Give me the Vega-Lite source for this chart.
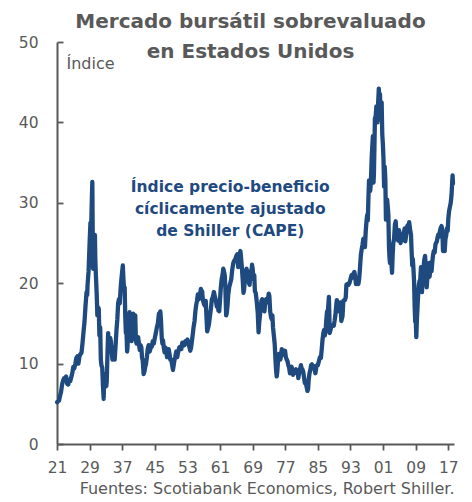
{
 "$schema": "https://vega.github.io/schema/vega-lite/v6.json",
 "width": 397,
 "height": 402,
 "autosize": "none",
 "padding": {"left": 57, "top": 42, "right": 18, "bottom": 58},
 "background": "white",
 "title": {"text": ["Mercado bursátil sobrevaluado", "en Estados Unidos"], "font": "DejaVu Sans", "fontSize": 20, "fontWeight": "bold", "color": "#595959", "anchor": "middle", "offset": -27, "dx": -5, "lineHeight": 30},
 "config": {"view": {"stroke": null}},
 "layer": [
  {
   "data": {"values": [
{"t":1921.0,"v":5.2},{"t":1921.25,"v":5.3},{"t":1921.5,"v":5.4},{"t":1921.75,"v":6.0},{"t":1922.0,"v":6.5},{"t":1922.25,"v":7.4},{"t":1922.5,"v":7.9},{"t":1922.75,"v":8.2},
{"t":1923.0,"v":8.2},{"t":1923.25,"v":8.4},{"t":1923.5,"v":7.5},{"t":1923.75,"v":7.4},{"t":1924.0,"v":8.0},{"t":1924.25,"v":7.8},{"t":1924.5,"v":8.3},{"t":1924.75,"v":8.8},
{"t":1925.0,"v":9.6},{"t":1925.25,"v":9.4},{"t":1925.5,"v":10.0},{"t":1925.75,"v":10.7},{"t":1926.0,"v":10.9},{"t":1926.25,"v":10.0},{"t":1926.5,"v":10.9},{"t":1926.75,"v":11.2},
{"t":1927.0,"v":11.3},{"t":1927.25,"v":12.5},{"t":1927.5,"v":13.9},{"t":1927.75,"v":15.2},{"t":1928.0,"v":17.2},{"t":1928.25,"v":18.9},{"t":1928.4,"v":18.5},{"t":1928.5,"v":19.8},{"t":1928.75,"v":21.5},
{"t":1929.0,"v":25.0},{"t":1929.2,"v":27.5},{"t":1929.35,"v":26.2},{"t":1929.5,"v":29.5},{"t":1929.67,"v":32.6},{"t":1929.75,"v":27.0},{"t":1929.85,"v":21.8},
{"t":1930.0,"v":23.5},{"t":1930.15,"v":25.3},{"t":1930.3,"v":26.0},{"t":1930.4,"v":23.0},{"t":1930.5,"v":21.5},{"t":1930.75,"v":18.5},{"t":1930.9,"v":16.0},
{"t":1931.1,"v":17.0},{"t":1931.25,"v":16.8},{"t":1931.4,"v":13.5},{"t":1931.6,"v":14.5},{"t":1931.75,"v":10.5},{"t":1931.9,"v":9.8},
{"t":1932.1,"v":9.5},{"t":1932.25,"v":7.5},{"t":1932.45,"v":5.6},{"t":1932.6,"v":8.5},{"t":1932.7,"v":8.7},{"t":1932.9,"v":7.3},
{"t":1933.1,"v":7.2},{"t":1933.2,"v":7.8},{"t":1933.4,"v":11.5},{"t":1933.55,"v":13.8},{"t":1933.7,"v":12.0},{"t":1933.9,"v":11.8},
{"t":1934.05,"v":13.2},{"t":1934.2,"v":12.8},{"t":1934.4,"v":11.6},{"t":1934.6,"v":10.5},{"t":1934.75,"v":10.7},{"t":1934.9,"v":10.8},
{"t":1935.15,"v":10.5},{"t":1935.4,"v":12.5},{"t":1935.6,"v":14.2},{"t":1935.8,"v":15.5},{"t":1936.0,"v":17.5},{"t":1936.2,"v":18.0},{"t":1936.4,"v":17.5},{"t":1936.6,"v":19.3},{"t":1936.8,"v":20.5},
{"t":1937.0,"v":21.5},{"t":1937.15,"v":22.2},{"t":1937.3,"v":20.5},{"t":1937.45,"v":19.2},{"t":1937.6,"v":19.5},{"t":1937.75,"v":15.8},{"t":1937.9,"v":13.8},
{"t":1938.05,"v":14.0},{"t":1938.2,"v":11.5},{"t":1938.3,"v":12.0},{"t":1938.45,"v":14.0},{"t":1938.65,"v":14.8},{"t":1938.8,"v":16.4},{"t":1938.95,"v":15.5},
{"t":1939.1,"v":14.6},{"t":1939.3,"v":12.8},{"t":1939.45,"v":13.6},{"t":1939.7,"v":16.2},{"t":1939.85,"v":15.8},
{"t":1940.0,"v":15.6},{"t":1940.2,"v":16.0},{"t":1940.35,"v":13.0},{"t":1940.5,"v":12.5},{"t":1940.7,"v":13.3},{"t":1940.9,"v":13.3},
{"t":1941.1,"v":12.5},{"t":1941.3,"v":11.7},{"t":1941.5,"v":12.3},{"t":1941.7,"v":12.0},{"t":1941.85,"v":10.8},
{"t":1942.05,"v":10.3},{"t":1942.25,"v":8.7},{"t":1942.45,"v":9.0},{"t":1942.65,"v":9.6},{"t":1942.85,"v":10.0},
{"t":1943.05,"v":10.8},{"t":1943.25,"v":11.8},{"t":1943.5,"v":12.3},{"t":1943.75,"v":11.5},{"t":1944.0,"v":12.0},{"t":1944.25,"v":12.1},{"t":1944.5,"v":12.8},{"t":1944.75,"v":12.5},
{"t":1945.0,"v":13.2},{"t":1945.25,"v":13.8},{"t":1945.5,"v":14.5},{"t":1945.75,"v":15.0},{"t":1946.0,"v":16.2},{"t":1946.15,"v":15.8},{"t":1946.35,"v":16.5},{"t":1946.5,"v":15.5},{"t":1946.7,"v":13.2},{"t":1946.85,"v":12.5},
{"t":1947.0,"v":12.9},{"t":1947.2,"v":12.0},{"t":1947.4,"v":11.4},{"t":1947.6,"v":12.0},{"t":1947.8,"v":11.5},{"t":1948.0,"v":10.8},{"t":1948.2,"v":11.0},{"t":1948.4,"v":11.8},{"t":1948.6,"v":11.2},{"t":1948.8,"v":10.5},
{"t":1949.0,"v":10.5},{"t":1949.2,"v":10.0},{"t":1949.45,"v":9.2},{"t":1949.6,"v":9.7},{"t":1949.8,"v":10.4},
{"t":1950.0,"v":10.8},{"t":1950.25,"v":11.5},{"t":1950.5,"v":10.8},{"t":1950.75,"v":11.5},{"t":1951.0,"v":12.0},{"t":1951.25,"v":12.1},{"t":1951.5,"v":11.8},{"t":1951.75,"v":12.6},
{"t":1952.0,"v":12.4},{"t":1952.25,"v":12.3},{"t":1952.5,"v":12.8},{"t":1952.75,"v":12.5},{"t":1953.0,"v":13.0},{"t":1953.25,"v":12.5},{"t":1953.5,"v":12.0},{"t":1953.7,"v":11.6},{"t":1953.9,"v":12.0},
{"t":1954.1,"v":12.8},{"t":1954.3,"v":13.6},{"t":1954.5,"v":14.5},{"t":1954.75,"v":15.3},{"t":1954.95,"v":16.5},
{"t":1955.15,"v":17.3},{"t":1955.35,"v":17.8},{"t":1955.55,"v":18.6},{"t":1955.75,"v":18.0},{"t":1955.95,"v":18.5},
{"t":1956.15,"v":18.8},{"t":1956.3,"v":19.3},{"t":1956.45,"v":18.8},{"t":1956.6,"v":19.0},{"t":1956.8,"v":17.9},
{"t":1957.0,"v":17.5},{"t":1957.25,"v":17.2},{"t":1957.5,"v":17.8},{"t":1957.7,"v":15.5},{"t":1957.85,"v":14.0},
{"t":1958.0,"v":14.3},{"t":1958.25,"v":14.8},{"t":1958.5,"v":15.8},{"t":1958.75,"v":16.8},{"t":1959.0,"v":18.0},{"t":1959.25,"v":18.3},{"t":1959.5,"v":18.9},{"t":1959.75,"v":18.3},
{"t":1960.0,"v":17.8},{"t":1960.2,"v":17.1},{"t":1960.4,"v":17.5},{"t":1960.6,"v":16.6},{"t":1960.8,"v":16.5},
{"t":1961.0,"v":18.0},{"t":1961.2,"v":19.5},{"t":1961.4,"v":20.5},{"t":1961.6,"v":21.0},{"t":1961.8,"v":21.8},{"t":1961.95,"v":21.5},
{"t":1962.15,"v":21.0},{"t":1962.3,"v":19.5},{"t":1962.5,"v":16.0},{"t":1962.65,"v":16.3},{"t":1962.85,"v":17.3},
{"t":1963.0,"v":18.5},{"t":1963.25,"v":19.5},{"t":1963.5,"v":20.0},{"t":1963.75,"v":20.5},{"t":1964.0,"v":21.7},{"t":1964.25,"v":22.5},{"t":1964.5,"v":22.8},{"t":1964.75,"v":23.0},
{"t":1965.0,"v":23.4},{"t":1965.25,"v":23.6},{"t":1965.45,"v":22.0},{"t":1965.6,"v":22.5},{"t":1965.8,"v":23.5},
{"t":1966.0,"v":24.0},{"t":1966.15,"v":23.2},{"t":1966.35,"v":22.0},{"t":1966.55,"v":20.5},{"t":1966.75,"v":18.8},{"t":1966.9,"v":19.2},
{"t":1967.1,"v":20.5},{"t":1967.3,"v":21.5},{"t":1967.5,"v":21.8},{"t":1967.7,"v":21.3},{"t":1967.9,"v":21.0},
{"t":1968.1,"v":20.0},{"t":1968.25,"v":19.8},{"t":1968.45,"v":21.5},{"t":1968.65,"v":21.0},{"t":1968.85,"v":22.3},
{"t":1969.0,"v":21.8},{"t":1969.2,"v":20.5},{"t":1969.4,"v":21.0},{"t":1969.55,"v":19.0},{"t":1969.75,"v":18.8},{"t":1969.9,"v":18.2},
{"t":1970.1,"v":17.2},{"t":1970.25,"v":16.3},{"t":1970.45,"v":13.9},{"t":1970.6,"v":15.0},{"t":1970.8,"v":16.0},{"t":1970.95,"v":16.8},
{"t":1971.15,"v":17.8},{"t":1971.35,"v":18.0},{"t":1971.55,"v":17.0},{"t":1971.75,"v":17.3},{"t":1971.9,"v":16.5},
{"t":1972.1,"v":17.8},{"t":1972.3,"v":18.0},{"t":1972.5,"v":17.6},{"t":1972.75,"v":18.0},{"t":1972.95,"v":18.7},
{"t":1973.1,"v":18.4},{"t":1973.3,"v":16.5},{"t":1973.5,"v":15.8},{"t":1973.7,"v":15.5},{"t":1973.85,"v":16.0},
{"t":1974.0,"v":14.5},{"t":1974.2,"v":13.5},{"t":1974.4,"v":12.5},{"t":1974.6,"v":10.5},{"t":1974.75,"v":9.2},{"t":1974.9,"v":8.4},
{"t":1975.05,"v":9.0},{"t":1975.25,"v":10.5},{"t":1975.45,"v":11.2},{"t":1975.6,"v":10.5},{"t":1975.8,"v":10.5},{"t":1975.95,"v":10.9},
{"t":1976.15,"v":11.8},{"t":1976.35,"v":11.5},{"t":1976.55,"v":11.6},{"t":1976.75,"v":11.1},{"t":1976.95,"v":11.6},
{"t":1977.15,"v":10.8},{"t":1977.35,"v":10.5},{"t":1977.55,"v":10.3},{"t":1977.75,"v":9.8},{"t":1977.95,"v":9.5},
{"t":1978.15,"v":8.8},{"t":1978.35,"v":9.5},{"t":1978.55,"v":9.6},{"t":1978.75,"v":9.3},{"t":1978.9,"v":8.6},
{"t":1979.05,"v":9.1},{"t":1979.25,"v":9.0},{"t":1979.45,"v":8.9},{"t":1979.65,"v":9.3},{"t":1979.85,"v":8.8},
{"t":1980.05,"v":9.1},{"t":1980.2,"v":8.2},{"t":1980.4,"v":8.8},{"t":1980.6,"v":9.2},{"t":1980.85,"v":9.8},
{"t":1981.0,"v":9.4},{"t":1981.2,"v":9.3},{"t":1981.4,"v":9.0},{"t":1981.6,"v":8.3},{"t":1981.8,"v":7.6},
{"t":1982.0,"v":7.7},{"t":1982.2,"v":7.2},{"t":1982.45,"v":6.6},{"t":1982.6,"v":6.8},{"t":1982.75,"v":8.0},{"t":1982.95,"v":8.8},
{"t":1983.15,"v":9.2},{"t":1983.35,"v":9.8},{"t":1983.55,"v":9.9},{"t":1983.75,"v":9.6},{"t":1983.95,"v":9.7},
{"t":1984.15,"v":9.4},{"t":1984.4,"v":8.8},{"t":1984.6,"v":9.5},{"t":1984.8,"v":9.8},
{"t":1985.0,"v":9.8},{"t":1985.25,"v":10.3},{"t":1985.5,"v":10.8},{"t":1985.75,"v":10.7},{"t":1985.95,"v":11.8},
{"t":1986.15,"v":13.0},{"t":1986.35,"v":13.8},{"t":1986.55,"v":14.2},{"t":1986.7,"v":13.5},{"t":1986.9,"v":14.0},
{"t":1987.05,"v":15.3},{"t":1987.25,"v":16.5},{"t":1987.45,"v":16.5},{"t":1987.6,"v":17.5},{"t":1987.7,"v":18.3},{"t":1987.8,"v":16.5},{"t":1987.9,"v":13.8},
{"t":1988.05,"v":14.1},{"t":1988.25,"v":14.5},{"t":1988.45,"v":14.7},{"t":1988.7,"v":14.8},{"t":1988.9,"v":14.7},
{"t":1989.1,"v":15.3},{"t":1989.3,"v":16.0},{"t":1989.5,"v":17.2},{"t":1989.65,"v":17.9},{"t":1989.85,"v":17.2},
{"t":1990.0,"v":17.0},{"t":1990.2,"v":16.5},{"t":1990.4,"v":17.4},{"t":1990.55,"v":17.6},{"t":1990.75,"v":15.3},{"t":1990.9,"v":15.6},
{"t":1991.05,"v":15.9},{"t":1991.25,"v":17.8},{"t":1991.45,"v":17.9},{"t":1991.65,"v":17.9},{"t":1991.85,"v":18.3},
{"t":1992.0,"v":19.8},{"t":1992.25,"v":19.9},{"t":1992.5,"v":19.8},{"t":1992.75,"v":20.0},
{"t":1993.0,"v":20.5},{"t":1993.25,"v":21.0},{"t":1993.5,"v":20.7},{"t":1993.75,"v":21.2},{"t":1993.95,"v":21.4},
{"t":1994.15,"v":20.8},{"t":1994.35,"v":19.9},{"t":1994.55,"v":20.1},{"t":1994.75,"v":20.2},{"t":1994.95,"v":19.9},
{"t":1995.15,"v":20.6},{"t":1995.35,"v":22.0},{"t":1995.55,"v":23.5},{"t":1995.75,"v":24.2},{"t":1995.95,"v":24.8},
{"t":1996.15,"v":25.5},{"t":1996.35,"v":25.6},{"t":1996.55,"v":24.5},{"t":1996.75,"v":26.5},{"t":1996.95,"v":27.8},
{"t":1997.1,"v":28.5},{"t":1997.25,"v":27.8},{"t":1997.4,"v":30.5},{"t":1997.55,"v":32.8},{"t":1997.7,"v":32.5},{"t":1997.85,"v":31.5},
{"t":1998.0,"v":32.5},{"t":1998.2,"v":35.5},{"t":1998.35,"v":37.0},{"t":1998.5,"v":38.3},{"t":1998.65,"v":32.5},{"t":1998.75,"v":33.5},{"t":1998.9,"v":37.5},
{"t":1999.0,"v":40.5},{"t":1999.2,"v":40.8},{"t":1999.35,"v":42.0},{"t":1999.5,"v":41.8},{"t":1999.65,"v":40.0},{"t":1999.8,"v":42.5},{"t":1999.95,"v":44.2},
{"t":2000.1,"v":42.5},{"t":2000.25,"v":43.5},{"t":2000.35,"v":40.5},{"t":2000.5,"v":42.0},{"t":2000.65,"v":42.5},{"t":2000.8,"v":38.5},{"t":2000.95,"v":37.3},
{"t":2001.1,"v":35.5},{"t":2001.25,"v":32.0},{"t":2001.4,"v":34.5},{"t":2001.55,"v":33.0},{"t":2001.7,"v":27.9},{"t":2001.85,"v":30.0},
{"t":2002.0,"v":30.4},{"t":2002.15,"v":29.5},{"t":2002.3,"v":28.5},{"t":2002.45,"v":24.5},{"t":2002.6,"v":23.0},{"t":2002.7,"v":22.5},{"t":2002.85,"v":23.5},
{"t":2003.0,"v":22.9},{"t":2003.2,"v":21.3},{"t":2003.35,"v":23.5},{"t":2003.5,"v":25.0},{"t":2003.7,"v":25.5},{"t":2003.9,"v":27.3},
{"t":2004.1,"v":27.7},{"t":2004.3,"v":26.0},{"t":2004.5,"v":26.1},{"t":2004.7,"v":25.3},{"t":2004.9,"v":26.6},
{"t":2005.1,"v":26.0},{"t":2005.3,"v":25.0},{"t":2005.5,"v":26.0},{"t":2005.7,"v":25.6},{"t":2005.9,"v":25.4},
{"t":2006.1,"v":26.3},{"t":2006.3,"v":26.8},{"t":2006.45,"v":25.2},{"t":2006.65,"v":25.9},{"t":2006.85,"v":27.0},
{"t":2007.05,"v":27.2},{"t":2007.2,"v":26.6},{"t":2007.4,"v":27.6},{"t":2007.55,"v":27.0},{"t":2007.7,"v":26.4},{"t":2007.85,"v":26.0},
{"t":2008.0,"v":24.0},{"t":2008.15,"v":22.2},{"t":2008.3,"v":23.0},{"t":2008.45,"v":21.8},{"t":2008.6,"v":20.3},{"t":2008.75,"v":17.0},{"t":2008.88,"v":15.2},
{"t":2009.0,"v":15.8},{"t":2009.15,"v":13.3},{"t":2009.3,"v":15.5},{"t":2009.45,"v":17.0},{"t":2009.6,"v":18.5},{"t":2009.75,"v":19.7},{"t":2009.95,"v":20.3},
{"t":2010.1,"v":20.3},{"t":2010.3,"v":22.0},{"t":2010.45,"v":19.2},{"t":2010.55,"v":18.9},{"t":2010.7,"v":20.8},{"t":2010.9,"v":21.8},
{"t":2011.1,"v":22.9},{"t":2011.3,"v":23.4},{"t":2011.45,"v":22.3},{"t":2011.6,"v":20.0},{"t":2011.7,"v":19.5},{"t":2011.85,"v":20.5},
{"t":2012.0,"v":21.0},{"t":2012.2,"v":22.5},{"t":2012.4,"v":20.8},{"t":2012.55,"v":21.4},{"t":2012.7,"v":22.6},{"t":2012.9,"v":21.5},
{"t":2013.05,"v":22.5},{"t":2013.25,"v":23.5},{"t":2013.45,"v":24.0},{"t":2013.65,"v":23.8},{"t":2013.85,"v":24.8},
{"t":2014.0,"v":25.0},{"t":2014.2,"v":25.2},{"t":2014.4,"v":25.8},{"t":2014.6,"v":26.1},{"t":2014.8,"v":25.8},{"t":2014.95,"v":26.5},
{"t":2015.15,"v":26.9},{"t":2015.35,"v":27.1},{"t":2015.55,"v":26.5},{"t":2015.7,"v":24.0},{"t":2015.85,"v":25.8},
{"t":2016.0,"v":25.0},{"t":2016.12,"v":24.0},{"t":2016.3,"v":25.5},{"t":2016.5,"v":26.0},{"t":2016.65,"v":26.8},{"t":2016.85,"v":26.5},
{"t":2017.0,"v":28.0},{"t":2017.2,"v":29.0},{"t":2017.4,"v":29.5},{"t":2017.6,"v":30.0},{"t":2017.8,"v":31.0},{"t":2017.95,"v":32.5},{"t":2018.05,"v":33.4},{"t":2018.15,"v":32.4}
   ]},
   "mark": {"type": "line", "color": "#1F4A7F", "strokeWidth": 4.3, "strokeJoin": "round", "strokeCap": "round"},
   "encoding": {
    "x": {"field": "t", "type": "quantitative",
      "scale": {"domain": [1921, 2018.4], "nice": false, "zero": false},
      "axis": {"values": [1921,1929,1937,1945,1953,1961,1969,1977,1985,1993,2001,2009,2017], "tickCount": 30, "format": "d", "labelExpr": "slice(datum.label, 2)",
        "grid": false, "domainColor": "#595959", "domainWidth": 2, "tickColor": "#595959", "tickWidth": 1.8, "tickSize": 6,
        "labelFont": "DejaVu Sans", "labelFontSize": 15.5, "labelColor": "#595959", "labelPadding": 10, "labelFlush": false, "labelOverlap": false,
        "title": "Fuentes: Scotiabank Economics, Robert Shiller.", "titleFont": "DejaVu Sans", "titleFontSize": 16, "titleFontWeight": "normal", "titleColor": "#595959",
        "titleAnchor": null, "titleAlign": "right", "titleX": 397, "titleY": 49, "titleBaseline": "alphabetic"}},
    "y": {"field": "v", "type": "quantitative",
      "scale": {"domain": [0, 50], "nice": false},
      "axis": {"values": [0,10,20,30,40,50], "tickCount": 20, "grid": false, "domainColor": "#595959", "domainWidth": 2, "tickColor": "#595959", "tickWidth": 1.8, "tickSize": -6,
        "labelFont": "DejaVu Sans", "labelFontSize": 15.5, "labelColor": "#595959", "labelPadding": 25, "labelFlush": false, "labelOverlap": false,
        "title": "Índice", "titleFont": "DejaVu Sans", "titleFontSize": 16, "titleFontWeight": "normal", "titleColor": "#595959",
        "titleAngle": 0, "titleAnchor": null, "titleAlign": "left", "titleX": 9, "titleY": 26, "titleBaseline": "alphabetic"}}
   }
  },
  {
   "data": {"values": [{}]},
   "mark": {"type": "text", "text": ["Índice precio-beneficio", "cíclicamente ajustado", "de Shiller (CAPE)"], "font": "DejaVu Sans", "fontSize": 15.5, "fontWeight": "bold", "color": "#1F4A7F", "align": "center", "baseline": "alphabetic", "lineHeight": 22},
   "encoding": {"x": {"datum": 1963.5, "type": "quantitative"}, "y": {"datum": 31.3, "type": "quantitative"}}
  }
 ]
}
